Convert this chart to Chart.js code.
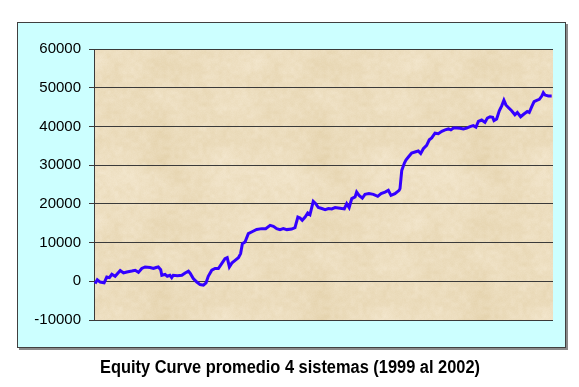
<!DOCTYPE html>
<html>
<head>
<meta charset="utf-8">
<script src="https://cdn.jsdelivr.net/npm/chart.js@4.4.1/dist/chart.umd.min.js"></script>
<style>
  html, body { margin: 0; padding: 0; background: #fff; }
  #wrap { width: 579px; height: 387px; }
</style>
</head>
<body>
<div id="wrap"><canvas id="equityChart" width="579" height="387"></canvas></div>
<script>
// weeks since start (1999) and accumulated equity
const weeks = [
  0, 1, 2.3, 4.1, 5.3, 6.5, 7.6, 9.1, 11.4, 12.9, 14.4, 16.7, 18.2, 19.7, 21.2, 22.7,
  25, 26.5, 27.7, 28.7, 29.8, 30.3, 31.8, 32.8, 34, 34.8, 35.5, 37.4, 39.4, 40.9, 42.4,
  43.1, 44.6, 46.2, 47.7, 49.2, 50.4, 51.4, 53, 54.5, 56, 57.5, 59, 60, 61, 62.1, 63.6,
  65.1, 66.1, 66.9, 68.1, 69.6, 71.3, 73.4, 75.7, 77.5, 79.5, 81, 82.5, 84, 85.5, 87.1,
  89.3, 90.8, 92.1, 93.1, 94.1, 95.4, 96.6, 97.6, 99.1, 100.2, 101.4, 103, 104.5, 106,
  107.5, 109, 111.3, 113.2, 114.3, 115.4, 116.6, 118.1, 118.8, 119.9, 121.4, 122.6,
  124.4, 126.4, 128.4, 129.9, 131.7, 133.2, 134.4, 136.2, 138.1, 138.5, 139.3, 140.5,
  141.2, 142.3, 143.8, 145.3, 146.8, 147.9, 149.1, 150.6, 151.8, 152.9, 154.4, 155.9,
  157.5, 159, 160.5, 161.6, 162.8, 164.3, 165.8, 167.3, 168.8, 170.3, 171.8, 173, 174.1,
  175.6, 177.1, 178.2, 179.4, 180.6, 181.2, 182.4, 183.6, 184.7, 185.7, 186.6, 187.7,
  189.2, 190.7, 191.8, 193.3, 194.8, 196.3, 197.2, 198.3, 199.4, 200.6, 201.8, 202.9,
  203.6, 204.4, 205.9, 207.4
];
const equity = [
  -600, 400, -200, -400, 1100, 950, 1800, 1300, 2800, 2150, 2400, 2650, 2850, 2300, 3300, 3700,
  3550, 3300, 3550, 3700, 3000, 1550, 1800, 1300, 1550, 950, 1550, 1450, 1550, 2150, 2600,
  2150, 700, -200, -850, -1000, -400, 1300, 2850, 3300, 3300, 4550, 5850, 6100, 3700, 4700, 5400,
  6100, 7150, 9700, 10150, 12300, 12800, 13400, 13600, 13600, 14450, 14200, 13600, 13350, 13600, 13350,
  13500, 13850, 16600, 16350, 15750, 16600, 17650, 17200, 20650, 20050, 19050, 18800, 18500, 18800,
  18700, 19050, 18850, 18700, 20050, 19050, 21350, 21800, 23050, 22200, 21500, 22450,
  22650, 22450, 21950, 22650, 23050, 23500, 22200, 22650, 23500, 23950, 28650, 30550,
  31300, 32100, 33150, 33400, 33650, 33000, 34250, 35100, 36550, 37050, 38250, 38100,
  38750, 39100, 39350, 39100, 39600, 39600, 39550, 39350, 39550, 39950, 40200, 39800, 41300,
  41650, 41050, 42150, 42500, 42350, 41500, 41900, 44050, 45300, 46750, 45550, 44900,
  44050, 43000, 43600, 42500, 43200, 43850, 43600, 45050, 46400, 46750, 47000, 47850,
  48700, 48100, 47850, 47850
];
const yMin = -10000;
const yMax = 60000;
const yStep = 10000;
const chartTitle = "Equity Curve promedio 4 sistemas (1999 al 2002)";

// parchment texture for the plot area (deterministic noise)
function makeParchment() {
  const size = 160;
  const c = document.createElement("canvas");
  c.width = size; c.height = size;
  const g = c.getContext("2d");
  const img = g.createImageData(size, size);
  const hash = (x, y) => {
    const s = Math.sin(x * 127.1 + y * 311.7) * 43758.5453;
    return s - Math.floor(s);
  };
  const noise = (x, y, cell) => {
    const x0 = Math.floor(x / cell), y0 = Math.floor(y / cell);
    const fx = x / cell - x0, fy = y / cell - y0;
    const n = size / cell;
    const h = (a, b) => hash(((a % n) + n) % n, ((b % n) + n) % n);
    const sx = fx * fx * (3 - 2 * fx), sy = fy * fy * (3 - 2 * fy);
    const top = h(x0, y0) * (1 - sx) + h(x0 + 1, y0) * sx;
    const bot = h(x0, y0 + 1) * (1 - sx) + h(x0 + 1, y0 + 1) * sx;
    return top * (1 - sy) + bot * sy;
  };
  for (let y = 0; y < size; y++) {
    for (let x = 0; x < size; x++) {
      const n = noise(x, y, 32) * 0.4 + noise(x, y, 16) * 0.3 + noise(x, y, 4) * 0.3 + (hash(x, y) - 0.5) * 0.15;
      const t = Math.max(0, Math.min(1, n));
      const i = (y * size + x) * 4;
      img.data[i] = 228 + t * 16;
      img.data[i + 1] = 210 + t * 22;
      img.data[i + 2] = 172 + t * 36;
      img.data[i + 3] = 255;
    }
  }
  g.putImageData(img, 0, 0);
  return c;
}
const parchment = makeParchment();

const framePlugin = {
  id: "frame",
  beforeDraw(chart) {
    const c = chart.ctx;
    const a = chart.chartArea;
    c.save();
    // outer cyan box with shadow
    c.fillStyle = "#8a8a8a";
    c.fillRect(19, 24, 549, 326);
    c.fillStyle = "#ccffff";
    c.fillRect(17, 22, 549, 326);
    c.strokeStyle = "#404040";
    c.lineWidth = 1;
    c.strokeRect(17.5, 22.5, 548, 325);
    // plot area texture
    c.fillStyle = c.createPattern(parchment, "repeat");
    c.fillRect(a.left, a.top, a.right - a.left, a.bottom - a.top);
    c.restore();
  },
  afterDraw(chart) {
    const c = chart.ctx;
    c.save();
    c.font = "bold 18px 'Liberation Sans Narrow', 'Arial Narrow', 'Liberation Sans', Arial, sans-serif";
    c.fillStyle = "#000";
    c.textBaseline = "alphabetic";
    const w = c.measureText(chartTitle).width;
    const target = 380;
    const k = Math.min(1, target / w);
    c.translate(290, 373);
    c.scale(k, 1);
    c.textAlign = "center";
    c.fillText(chartTitle, 0, 0);
    c.restore();
  }
};

const points = weeks.map((w, i) => ({ x: w, y: equity[i] }));

new Chart(document.getElementById("equityChart").getContext("2d"), {
  type: "line",
  data: {
    datasets: [{
      label: "Equity",
      data: points,
      borderColor: "#3300ff",
      borderWidth: 3,
      pointRadius: 0,
      tension: 0,
      fill: false
    }]
  },
  options: {
    responsive: false,
    animation: false,
    layout: { padding: { left: 0, top: 49, right: 26, bottom: 67 } },
    plugins: { legend: { display: false }, tooltip: { enabled: false } },
    scales: {
      x: {
        type: "linear",
        min: -0.5,
        max: 208,
        display: false
      },
      y: {
        min: yMin,
        max: yMax,
        afterFit(scale) { scale.width = 94; },
        ticks: {
          stepSize: yStep,
          padding: 8,
          color: "#000",
          font: { family: "'Liberation Sans', Arial, sans-serif", size: 15 },
          callback: (v) => String(v)
        },
        grid: {
          color: "#3a3a3a",
          lineWidth: 1,
          tickLength: 5
        },
        border: { color: "#3a3a3a", width: 1 }
      }
    }
  },
  plugins: [framePlugin]
});
</script>
</body>
</html>
